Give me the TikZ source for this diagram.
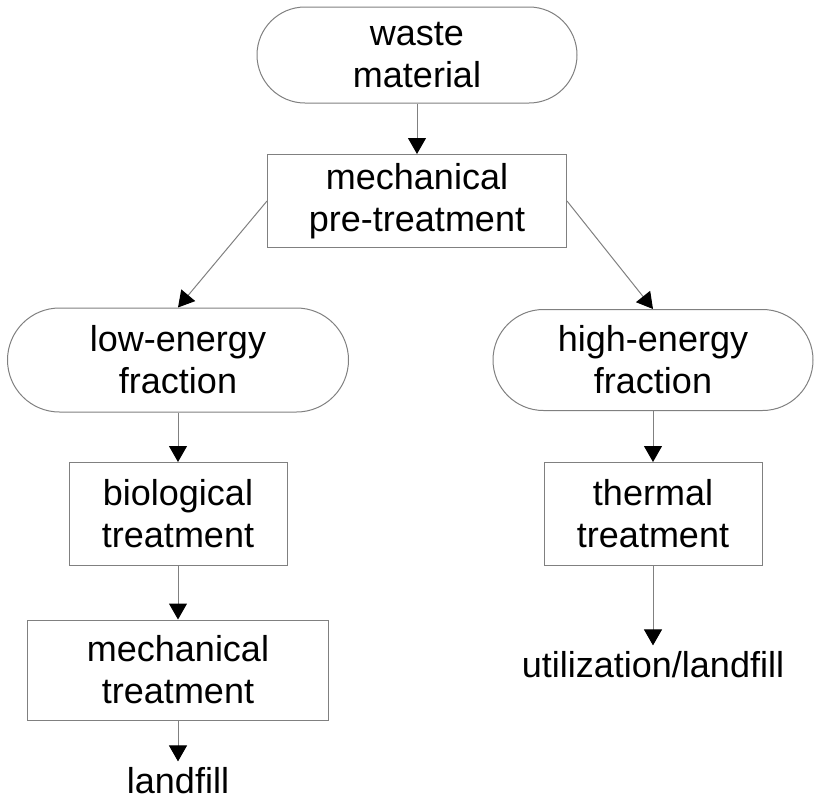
\documentclass[tikz,border=0pt]{standalone}
\usepackage{fontspec}
\setmainfont{Liberation Sans}
\usetikzlibrary{arrows.meta,shapes.misc}

\begin{document}
\begin{tikzpicture}[x=1pt,y=-1pt,line width=1pt,
  font={\fontsize{36pt}{42pt}\selectfont},
  stepbox/.style={draw=gray,rectangle,align=center,inner sep=0pt},
  term/.style={draw=gray,rounded rectangle,align=center,inner sep=0pt},
  sink/.style={align=center,inner sep=5pt},
  flow/.style={draw=gray,-{Triangle[length=16pt,width=18pt,color=black]}}]
  \useasboundingbox (0,0) rectangle (814,801);
  \node[term,minimum width=320pt,minimum height=96pt] (waste) at (417,55) {waste\\material};
  \node[stepbox,minimum width=299pt,minimum height=93pt] (pre) at (417,201) {mechanical\\pre-treatment};
  \node[term,minimum width=341pt,minimum height=104pt] (low) at (178,360) {low-energy\\fraction};
  \node[term,minimum width=320pt,minimum height=101pt] (high) at (653,360) {high-energy\\fraction};
  \node[stepbox,minimum width=218pt,minimum height=103pt] (bio) at (178,514) {biological\\treatment};
  \node[stepbox,minimum width=301pt,minimum height=100pt] (mech) at (178,670) {mechanical\\treatment};
  \node[stepbox,minimum width=218pt,minimum height=103pt] (thermal) at (653,514) {thermal\\treatment};
  \node[sink,anchor=base] (landfill) at (178,793) {landfill};
  \node[sink,anchor=base] (util) at (653,677) {utilization/landfill};
  \draw[flow] (waste) -- (pre);
  \draw[flow] (pre.west) -- (low.north);
  \draw[flow] (pre.east) -- (high.north);
  \draw[flow] (low) -- (bio);
  \draw[flow] (bio) -- (mech);
  \draw[flow] (mech) -- (landfill);
  \draw[flow] (high) -- (thermal);
  \draw[flow] (thermal) -- (util);
\end{tikzpicture}
\end{document}
